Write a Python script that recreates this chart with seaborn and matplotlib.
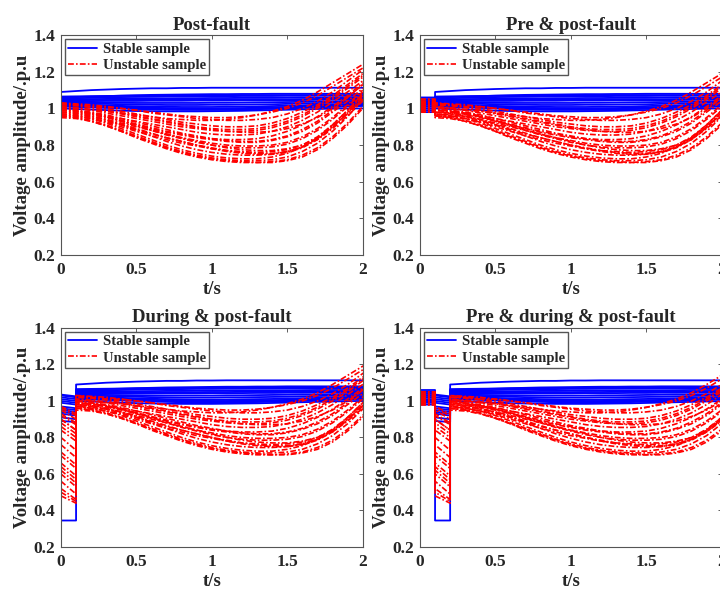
import numpy as np
import pandas as pd
import matplotlib
matplotlib.use('Agg')
import matplotlib.pyplot as plt
from matplotlib.lines import Line2D
from matplotlib.ticker import FormatStrFormatter
import seaborn as sns

# time grid of the post-fault trajectories (s)
t_post = [round(0.1 * i, 1) for i in range(21)]

# stable samples: post-fault voltage read at t_post
stable_post = [
    [1.09, 1.095, 1.10, 1.103, 1.106, 1.108, 1.11, 1.11, 1.112, 1.112, 1.113, 1.113, 1.113, 1.113, 1.113, 1.113, 1.113, 1.113, 1.113, 1.113, 1.113],
    [1.06, 1.062, 1.065, 1.067, 1.07, 1.072, 1.074, 1.075, 1.076, 1.077, 1.078, 1.078, 1.079, 1.079, 1.08, 1.08, 1.08, 1.08, 1.08, 1.08, 1.08],
    [1.055, 1.056, 1.058, 1.06, 1.062, 1.063, 1.064, 1.065, 1.066, 1.066, 1.067, 1.067, 1.068, 1.068, 1.068, 1.069, 1.069, 1.07, 1.07, 1.07, 1.07],
    [1.05, 1.05, 1.051, 1.052, 1.053, 1.054, 1.055, 1.055, 1.056, 1.056, 1.057, 1.057, 1.058, 1.058, 1.058, 1.059, 1.06, 1.06, 1.06, 1.061, 1.062],
    [1.045, 1.045, 1.046, 1.046, 1.047, 1.047, 1.048, 1.048, 1.048, 1.049, 1.049, 1.05, 1.05, 1.05, 1.05, 1.05, 1.051, 1.052, 1.053, 1.054, 1.055],
    [1.04, 1.04, 1.04, 1.041, 1.041, 1.041, 1.042, 1.042, 1.042, 1.043, 1.043, 1.043, 1.044, 1.044, 1.045, 1.045, 1.046, 1.047, 1.048, 1.049, 1.05],
    [1.035, 1.034, 1.033, 1.032, 1.031, 1.03, 1.03, 1.03, 1.03, 1.03, 1.031, 1.031, 1.032, 1.033, 1.034, 1.035, 1.036, 1.037, 1.038, 1.04, 1.042],
    [1.03, 1.029, 1.027, 1.025, 1.023, 1.021, 1.02, 1.019, 1.019, 1.019, 1.02, 1.02, 1.021, 1.022, 1.023, 1.025, 1.027, 1.029, 1.031, 1.033, 1.035],
    [1.025, 1.023, 1.02, 1.017, 1.014, 1.012, 1.01, 1.009, 1.008, 1.008, 1.008, 1.009, 1.01, 1.011, 1.013, 1.015, 1.017, 1.02, 1.022, 1.025, 1.028],
    [1.02, 1.018, 1.015, 1.012, 1.009, 1.006, 1.004, 1.002, 1.001, 1.0, 1.0, 1.001, 1.002, 1.004, 1.006, 1.008, 1.011, 1.014, 1.017, 1.02, 1.023],
    [1.015, 1.012, 1.008, 1.004, 1.0, 0.997, 0.995, 0.993, 0.992, 0.992, 0.992, 0.993, 0.994, 0.996, 0.998, 1.0, 1.003, 1.006, 1.009, 1.012, 1.015],
    [1.0, 0.997, 0.994, 0.991, 0.988, 0.986, 0.985, 0.984, 0.984, 0.984, 0.985, 0.986, 0.987, 0.989, 0.991, 0.993, 0.995, 0.997, 0.999, 1.0, 1.0],
    [1.065, 1.066, 1.067, 1.068, 1.069, 1.07, 1.07, 1.071, 1.071, 1.072, 1.072, 1.072, 1.073, 1.073, 1.073, 1.073, 1.073, 1.073, 1.072, 1.072, 1.072],
    [1.01, 1.008, 1.006, 1.004, 1.002, 1.0, 0.999, 0.998, 0.997, 0.997, 0.997, 0.998, 0.999, 1.0, 1.002, 1.004, 1.006, 1.008, 1.01, 1.012, 1.014],
]
stable_pre = [1.00, 1.05, 1.04, 1.03, 1.02, 1.06, 1.01, 1.00, 0.99, 1.05, 0.98, 1.03, 1.04, 1.02]
stable_fault_start = [0.345, 1.03, 1.01, 0.99, 0.97, 1.035, 0.95, 0.93, 0.91, 1.00, 0.89, 0.96, 1.02, 0.94]
stable_fault_end = [0.345, 1.02, 1.00, 0.98, 0.96, 1.025, 0.94, 0.92, 0.90, 0.99, 0.885, 0.95, 1.01, 0.93]

# unstable samples: post-fault voltage read at t_post
unstable_post = [
    [1.02, 1.02, 1.01, 1.01, 1.00, 0.99, 0.98, 0.97, 0.96, 0.955, 0.95, 0.95, 0.955, 0.965, 0.98, 1.00, 1.03, 1.07, 1.12, 1.17, 1.22],
    [1.00, 1.00, 0.99, 0.985, 0.975, 0.965, 0.955, 0.945, 0.94, 0.935, 0.935, 0.94, 0.95, 0.965, 0.985, 1.01, 1.045, 1.09, 1.14, 1.19, 1.24],
    [1.01, 1.00, 0.99, 0.975, 0.96, 0.945, 0.93, 0.915, 0.90, 0.89, 0.88, 0.875, 0.875, 0.88, 0.895, 0.92, 0.955, 1.00, 1.05, 1.11, 1.17],
    [0.99, 0.985, 0.975, 0.96, 0.945, 0.93, 0.915, 0.90, 0.885, 0.87, 0.86, 0.855, 0.855, 0.86, 0.875, 0.90, 0.935, 0.98, 1.035, 1.09, 1.15],
    [1.03, 1.02, 1.01, 1.00, 0.985, 0.97, 0.955, 0.94, 0.925, 0.915, 0.905, 0.90, 0.90, 0.905, 0.92, 0.945, 0.98, 1.02, 1.07, 1.13, 1.19],
    [0.98, 0.975, 0.965, 0.95, 0.93, 0.91, 0.89, 0.87, 0.855, 0.84, 0.83, 0.82, 0.815, 0.815, 0.825, 0.845, 0.875, 0.92, 0.98, 1.04, 1.11],
    [1.00, 0.99, 0.98, 0.965, 0.945, 0.925, 0.905, 0.885, 0.865, 0.85, 0.835, 0.825, 0.82, 0.82, 0.83, 0.85, 0.885, 0.93, 0.99, 1.06, 1.13],
    [0.97, 0.965, 0.955, 0.94, 0.92, 0.90, 0.88, 0.86, 0.84, 0.825, 0.81, 0.80, 0.795, 0.795, 0.80, 0.815, 0.845, 0.89, 0.95, 1.02, 1.10],
    [0.96, 0.955, 0.945, 0.93, 0.91, 0.885, 0.86, 0.84, 0.82, 0.80, 0.785, 0.77, 0.76, 0.755, 0.755, 0.765, 0.79, 0.835, 0.90, 0.98, 1.07],
    [0.98, 0.975, 0.96, 0.94, 0.915, 0.89, 0.865, 0.84, 0.82, 0.80, 0.78, 0.765, 0.755, 0.75, 0.75, 0.76, 0.785, 0.83, 0.895, 0.975, 1.06],
    [0.99, 0.98, 0.97, 0.955, 0.935, 0.91, 0.885, 0.86, 0.84, 0.82, 0.80, 0.785, 0.775, 0.77, 0.77, 0.78, 0.80, 0.845, 0.91, 0.99, 1.08],
    [0.96, 0.95, 0.935, 0.91, 0.88, 0.85, 0.82, 0.79, 0.765, 0.745, 0.73, 0.72, 0.715, 0.715, 0.72, 0.735, 0.765, 0.81, 0.875, 0.955, 1.05],
    [0.95, 0.945, 0.93, 0.905, 0.875, 0.845, 0.815, 0.785, 0.76, 0.74, 0.725, 0.715, 0.71, 0.705, 0.71, 0.72, 0.745, 0.785, 0.845, 0.92, 1.01],
    [0.97, 0.96, 0.945, 0.92, 0.89, 0.86, 0.83, 0.80, 0.775, 0.755, 0.74, 0.73, 0.725, 0.725, 0.735, 0.755, 0.79, 0.84, 0.91, 0.99, 1.08],
    [1.02, 1.015, 1.005, 0.99, 0.975, 0.96, 0.945, 0.93, 0.915, 0.90, 0.89, 0.885, 0.885, 0.89, 0.905, 0.93, 0.965, 1.01, 1.06, 1.12, 1.18],
    [0.99, 0.985, 0.97, 0.955, 0.935, 0.915, 0.895, 0.875, 0.86, 0.845, 0.835, 0.83, 0.83, 0.835, 0.85, 0.875, 0.91, 0.955, 1.01, 1.07, 1.14],
    [1.00, 0.99, 0.975, 0.955, 0.93, 0.905, 0.88, 0.855, 0.835, 0.815, 0.80, 0.79, 0.785, 0.785, 0.79, 0.805, 0.835, 0.88, 0.94, 1.01, 1.09],
    [0.97, 0.96, 0.945, 0.925, 0.90, 0.875, 0.85, 0.83, 0.81, 0.795, 0.78, 0.77, 0.765, 0.76, 0.765, 0.775, 0.80, 0.84, 0.90, 0.97, 1.05],
    [0.98, 0.97, 0.955, 0.935, 0.91, 0.88, 0.85, 0.82, 0.795, 0.775, 0.76, 0.75, 0.745, 0.745, 0.75, 0.765, 0.79, 0.83, 0.89, 0.96, 1.04],
    [1.01, 1.005, 0.995, 0.985, 0.97, 0.955, 0.94, 0.925, 0.91, 0.895, 0.885, 0.875, 0.87, 0.87, 0.875, 0.89, 0.915, 0.95, 1.00, 1.06, 1.13],
    [1.03, 1.025, 1.02, 1.01, 1.00, 0.99, 0.975, 0.965, 0.955, 0.945, 0.94, 0.935, 0.935, 0.94, 0.95, 0.97, 1.00, 1.04, 1.09, 1.15, 1.21],
    [0.96, 0.95, 0.93, 0.905, 0.875, 0.84, 0.81, 0.78, 0.755, 0.735, 0.72, 0.71, 0.705, 0.705, 0.705, 0.715, 0.735, 0.775, 0.835, 0.91, 1.00],
]
unstable_pre = [1.00, 1.03, 0.99, 1.02, 1.05, 0.98, 1.01, 1.04, 1.00, 0.99, 1.02,
                1.03, 0.98, 1.01, 1.04, 1.00, 0.99, 1.05, 1.02, 0.98, 1.03, 1.01]
unstable_fault_start = [0.97, 0.95, 0.90, 0.88, 0.93, 0.80, 0.84, 0.72, 0.62, 0.66, 0.70,
                        0.50, 0.48, 0.56, 0.92, 0.86, 0.60, 0.76, 0.64, 0.90, 0.96, 0.52]
unstable_fault_end = [0.93, 0.90, 0.84, 0.82, 0.88, 0.73, 0.78, 0.65, 0.55, 0.59, 0.63,
                      0.45, 0.44, 0.49, 0.87, 0.80, 0.53, 0.69, 0.57, 0.84, 0.92, 0.46]

titles = ['Post-fault', 'Pre & post-fault', 'During & post-fault', 'Pre & during & post-fault']


def build_frame(post, pre, f0, f1, mode):
    rows = []
    for i in range(len(post)):
        if mode == 'post':
            t = list(t_post)
            v = list(post[i])
        elif mode == 'pre':
            t = [0.0, 0.1] + [0.1 + x for x in t_post]
            v = [pre[i], pre[i]] + list(post[i])
        elif mode == 'during':
            t = [0.0, 0.1] + [0.1 + x for x in t_post]
            v = [f0[i], f1[i]] + list(post[i])
        else:
            t = [0.0, 0.1, 0.1, 0.2] + [0.2 + x for x in t_post]
            v = [pre[i], pre[i], f0[i], f1[i]] + list(post[i])
        for tt, vv in zip(t, v):
            rows.append((tt, vv, i))
    return pd.DataFrame(rows, columns=['t', 'v', 'curve'])


sns.set_style('white')
plt.rcParams['font.family'] = ['Liberation Serif', 'DejaVu Serif']
plt.rcParams['font.weight'] = 'bold'
plt.rcParams['axes.titleweight'] = 'bold'
plt.rcParams['axes.labelweight'] = 'bold'

fig = plt.figure(figsize=(7.2, 5.91), dpi=100)
positions = [
    [0.0847, 0.5685, 0.419, 0.372],
    [0.5833, 0.5685, 0.419, 0.372],
    [0.0847, 0.0745, 0.419, 0.3706],
    [0.5833, 0.0745, 0.419, 0.3706],
]
modes = ['post', 'pre', 'during', 'all']
dashdot = (0, (3.5, 1.3, 1, 1.3))

for pos, mode, title in zip(positions, modes, titles):
    ax = fig.add_axes(pos)
    df_s = build_frame(stable_post, stable_pre, stable_fault_start, stable_fault_end, mode)
    df_u = build_frame(unstable_post, unstable_pre, unstable_fault_start, unstable_fault_end, mode)
    sns.lineplot(data=df_s, x='t', y='v', units='curve', estimator=None, sort=False,
                 color='#0000ff', linewidth=1.3, legend=False, ax=ax)
    sns.lineplot(data=df_u, x='t', y='v', units='curve', estimator=None, sort=False,
                 color='#ff0000', linewidth=1.2, linestyle=dashdot,
                 legend=False, ax=ax)
    ax.set_xlim(0, 2)
    ax.set_ylim(0.2, 1.4)
    ax.set_xticks([0, 0.5, 1, 1.5, 2])
    ax.set_yticks([0.2, 0.4, 0.6, 0.8, 1.0, 1.2, 1.4])
    ax.xaxis.set_major_formatter(FormatStrFormatter('%g'))
    ax.yaxis.set_major_formatter(FormatStrFormatter('%g'))
    ax.tick_params(direction='in', top=True, right=True, length=3, width=0.6,
                   color='#444444', labelsize=12.5, pad=4)
    ax.tick_params(axis='x', pad=5)
    for s in ax.spines.values():
        s.set_color('#555555')
        s.set_linewidth(0.8)
    ax.set_title(title, fontsize=13.5, fontweight='bold', pad=4)
    ax.set_xlabel('t/s', fontsize=13.5, labelpad=2)
    ax.set_ylabel('Voltage amplitude/.p.u', fontsize=13.5, labelpad=2)
    handles = [Line2D([], [], color='#0000ff', lw=1.3),
               Line2D([], [], color='#ff0000', lw=1.2, linestyle=dashdot)]
    ax.legend(handles, ['Stable sample', 'Unstable sample'], loc='upper left',
              prop={'size': 10.5, 'weight': 'bold'}, frameon=True, fancybox=False,
              edgecolor='#555555', framealpha=1, borderpad=0.25, labelspacing=0.2,
              handlelength=2.0, handletextpad=0.35, borderaxespad=0.25)

fig.savefig('out.png', dpi=100)
